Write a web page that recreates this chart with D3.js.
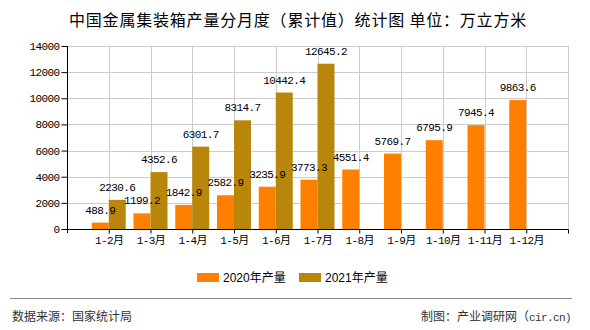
<!DOCTYPE html>
<html><head><meta charset="utf-8">
<script src="https://cdn.jsdelivr.net/npm/d3@7/dist/d3.min.js"></script>
<style>body{margin:0;background:#fff}svg{display:block}</style>
</head><body>
<svg id="c" width="590" height="330"></svg>
<script>
const categories = ["1-2月","1-3月","1-4月","1-5月","1-6月","1-7月","1-8月","1-9月","1-10月","1-11月","1-12月"];
const values2020 = [488.9,1199.2,1842.9,2582.9,3235.9,3773.3,4551.4,5769.7,6795.9,7945.4,9863.6];
const values2021 = [2230.6,4352.6,6301.7,8314.7,10442.4,12645.2,null,null,null,null,null];
const yTicks = [0,2000,4000,6000,8000,10000,12000,14000];
const seriesNames = ["2020年产量","2021年产量"];
const colors = ["#FF8000","#B8860B"];

const svg = d3.select("#c");
const L = 67, R = 568, T = 46, B = 229;
const mono = "'Liberation Mono','Noto Sans CJK SC',monospace";
const x = d3.scalePoint().domain(categories).range([L, R]).padding(1);
const y = d3.scaleLinear().domain([0, 14000]).range([B, T]);
const bw = 17;

// title
svg.append("text").attr("x", 298).attr("y", 26).attr("text-anchor","middle")
  .attr("font-family","'Noto Sans CJK SC',sans-serif").attr("font-size",16).attr("font-weight",400)
  .attr("letter-spacing","0.8px").attr("fill","#000").text("中国金属集装箱产量分月度（累计值）统计图 单位：万立方米");

// grid
const g = svg.append("g");
g.selectAll(".hg").data(yTicks.filter(d=>d>0)).join("line")
  .attr("x1",L).attr("x2",R).attr("y1",d=>Math.round(y(d))+0.5).attr("y2",d=>Math.round(y(d))+0.5)
  .attr("stroke","#ccc");
const vx = categories.map(c=>x(c)).concat([R]);
g.selectAll(".vg").data(vx).join("line")
  .attr("x1",d=>Math.round(d)+0.5).attr("x2",d=>Math.round(d)+0.5).attr("y1",T).attr("y2",B)
  .attr("stroke","#ccc");

// bars
const bars = svg.append("g");
[values2020, values2021].forEach((vals, si) => {
  const data = categories.map((c,i)=>({c, v: vals[i]})).filter(d=>d.v!=null);
  bars.selectAll(".b"+si).data(data).join("rect")
    .attr("x", d => x(d.c) + (si===0 ? -bw : 0))
    .attr("width", bw)
    .attr("y", d => y(d.v)).attr("height", d => B - y(d.v))
    .attr("fill", colors[si]);
});

// axes
const yAxis = d3.axisLeft(y).tickValues(yTicks).tickSize(6).tickPadding(2).tickFormat(d3.format("d"));
const ya = svg.append("g").attr("transform",`translate(${L+0.5},0)`).call(yAxis);
ya.select(".domain").attr("stroke","#000").attr("d",`M0,${T}V${B+4}`);
ya.selectAll(".tick line").attr("stroke","#000");
ya.selectAll("text").attr("font-family",mono).attr("font-size",11).attr("letter-spacing","-0.6px").attr("fill","#000");

const xAxis = d3.axisBottom(x).tickSize(4).tickPadding(3);
const xa = svg.append("g").attr("transform",`translate(0,${B+0.5})`).call(xAxis);
xa.select(".domain").attr("stroke","#000").attr("d",`M${L},0H${R+0.5}`);
xa.selectAll(".tick line").attr("stroke","#000");
xa.selectAll("text").attr("font-family",mono).attr("font-size",11).attr("letter-spacing","-0.6px").attr("fill","#000");
xa.append("line").attr("x1",R+0.5).attr("x2",R+0.5).attr("y1",0).attr("y2",4).attr("stroke","#000");

// value labels
const lab = svg.append("g").attr("font-family",mono).attr("font-size",11).attr("letter-spacing","-0.6px").attr("fill","#000").attr("text-anchor","middle");
[values2020, values2021].forEach((vals, si) => {
  const data = categories.map((c,i)=>({c, v: vals[i]})).filter(d=>d.v!=null);
  lab.selectAll(".l"+si).data(data).join("text")
    .attr("x", d => x(d.c) + (si===0 ? -bw/2 : bw/2))
    .attr("y", d => y(d.v) - 9)
    .text(d => d3.format(".1f")(d.v));
});

// legend
const lg = svg.append("g");
const lx = [197, 299];
seriesNames.forEach((n,i)=>{
  lg.append("rect").attr("x",lx[i]).attr("y",273).attr("width",22).attr("height",9).attr("fill",colors[i]);
  lg.append("text").attr("x",lx[i]+26).attr("y",282).attr("font-family","'Liberation Sans','Noto Sans CJK SC',sans-serif")
    .attr("font-size",12).attr("fill","#000").text(n);
});

// footer
svg.append("line").attr("x1",10).attr("x2",572).attr("y1",298.5).attr("y2",298.5).attr("stroke","#888").attr("stroke-width",1);
svg.append("text").attr("x",12).attr("y",321).attr("font-family","'Noto Sans CJK SC',sans-serif").attr("font-size",12).attr("fill","#333").text("数据来源：国家统计局");
const ft = svg.append("text").attr("x",571).attr("y",321).attr("text-anchor","end").attr("font-family","'Noto Sans CJK SC',sans-serif").attr("font-size",12).attr("fill","#333");
ft.append("tspan").text("制图：产业调研网（");
ft.append("tspan").attr("font-family",mono).attr("font-size",11).attr("letter-spacing","-0.6px").text("cir.cn)");
</script>
</body></html>
